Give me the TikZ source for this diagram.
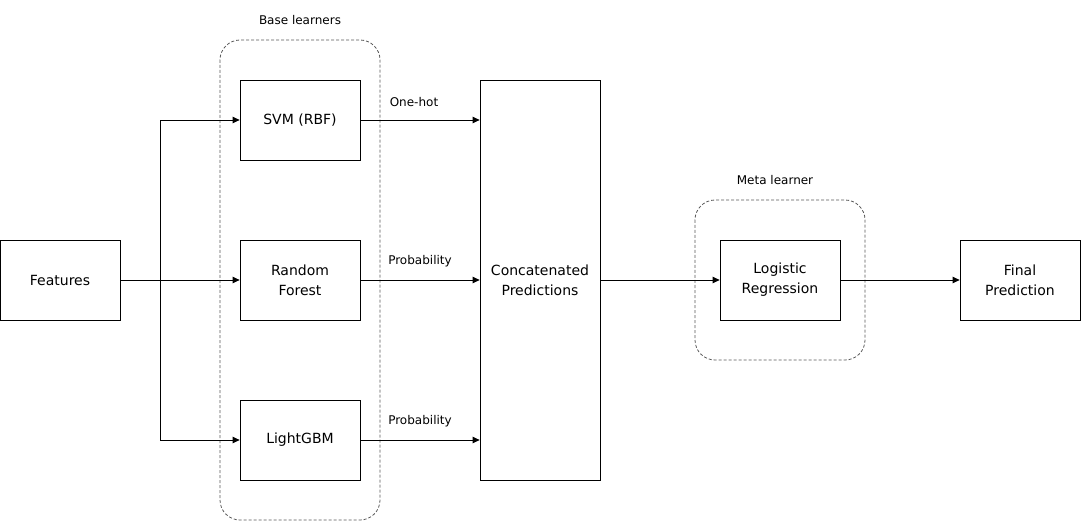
\documentclass[tikz,border=0pt]{standalone}
\usepackage{fontspec}
\setmainfont{DejaVu Sans}
\usetikzlibrary{arrows.meta}
\begin{document}
\begin{tikzpicture}[x=1pt,y=-1pt,
  box/.style={draw,line width=0.8pt,minimum width=120pt,minimum height=80pt,align=center,font=\fontsize{14}{20}\selectfont,inner sep=0pt},
  grp/.style={draw=black!65,line width=0.8pt,rounded corners=20pt,dash pattern=on 3pt off 2pt},
  lbl/.style={font=\fontsize{12}{14}\selectfont,inner sep=0pt},
  arr/.style={line width=0.8pt,-{Triangle[length=7pt,width=6.5pt]}},
  ln/.style={line width=0.8pt}]
\useasboundingbox (0,0) rectangle (1081,521);
\draw[grp] (220,40) rectangle (380,520);
\draw[grp] (695,200) rectangle (865,360);
\node[lbl] (bl) at (300,20) {Base learners};
\node[lbl] (ml) at (775,180) {Meta learner};
\node[box] (feat) at (60,280) {Features};
\node[box] (svm) at (300,120) {SVM (RBF)};
\node[box] (rf) at (300,280) {Random\\Forest};
\node[box] (lgb) at (300,440) {LightGBM};
\node[box,minimum height=400pt] (cat) at (540,280) {Concatenated\\Predictions};
\node[box] (lr) at (780,280) {Logistic\\Regression};
\node[box] (fin) at (1020,280) {Final\\Prediction};
\coordinate (sp) at (160,280);
\draw[arr] (feat) -- (rf);
\draw[arr] (sp) |- (svm);
\draw[arr] (sp) |- (lgb);
\draw[arr] (svm) -- (svm -| cat.west) node[lbl,midway,above=13pt,xshift=-6pt] {One-hot};
\draw[arr] (rf) -- (cat.west |- rf) node[lbl,midway,above=13pt] {Probability};
\draw[arr] (lgb) -- (cat.west |- lgb) node[lbl,midway,above=13pt] {Probability};
\draw[arr] (cat.east |- lr) -- (lr);
\draw[arr] (lr) -- (fin);
\end{tikzpicture}
\end{document}
